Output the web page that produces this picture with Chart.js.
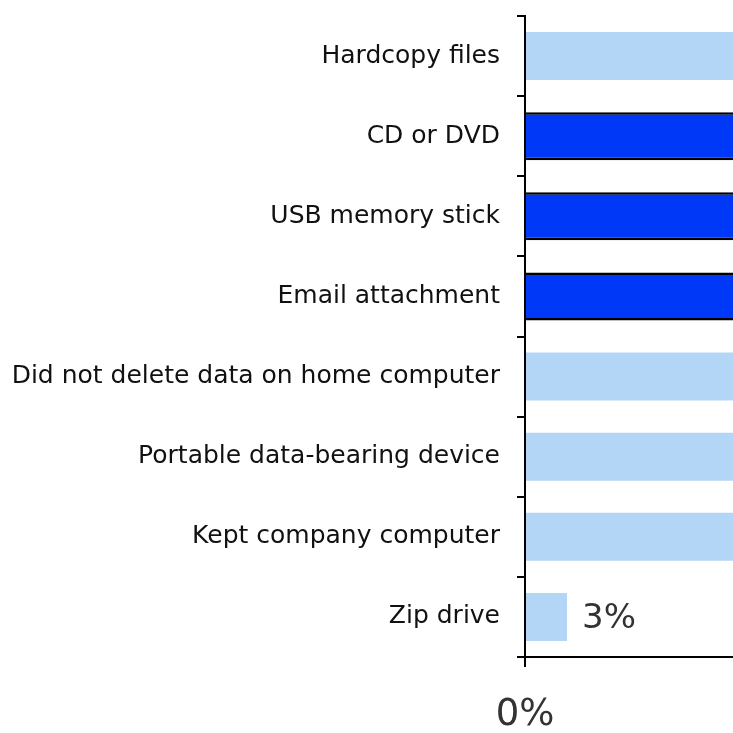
<!DOCTYPE html>
<html>
<head>
<meta charset="utf-8">
<script src="https://cdn.jsdelivr.net/npm/chart.js@4/dist/chart.umd.min.js"></script>
<style>
  html, body { margin: 0; padding: 0; background: #ffffff; overflow: hidden; }
  #wrap { width: 733px; height: 733px; overflow: hidden; position: relative; }
  #plot { position: absolute; left: 0; top: 0; }
</style>
</head>
<body>
<div id="wrap"><canvas id="plot" width="1505" height="733"></canvas></div>
<script>
// categorias del grafico (de arriba hacia abajo)
let categorias = [
  'Hardcopy files',
  'CD or DVD',
  'USB memory stick',
  'Email attachment',
  'Did not delete data on home computer',
  'Portable data-bearing device',
  'Kept company computer',
  'Zip drive'
]

// porcentajes (solo el 3% se ve completo, los demas se salen del recorte)
let valores = [61, 53, 42, 38, 23, 19, 16, 3]

// barras resaltadas
let resaltadas = [false, true, true, true, false, false, false, false]

let ticksX = [0, 20, 40, 60]

let azulClaro = '#b4d6f6'
let azulFuerte = '#0038f8'

// Plugin para escribir el valor al final de cada barra
let etiquetas = {
  id: 'etiquetas',
  afterDatasetsDraw(chart) {
    let ctx = chart.ctx
    let meta = chart.getDatasetMeta(0)
    ctx.save()
    ctx.font = '34px "DejaVu Sans"'
    ctx.fillStyle = '#333333'
    ctx.textAlign = 'left'
    ctx.textBaseline = 'middle'
    meta.data.forEach((bar, i) => {
      ctx.fillText(valores[i] + '%', bar.x + 15, bar.y + 2)
    })
    ctx.restore()
  }
}

let config = {
  type: 'bar',
  data: {
    labels: categorias,
    datasets: [{
      data: valores,
      backgroundColor: resaltadas.map(r => r ? azulFuerte : azulClaro),
      borderColor: resaltadas.map(r => r ? '#000000' : 'rgba(0,0,0,0)'),
      borderWidth: resaltadas.map(r => r ? 2.5 : 0),
      barPercentage: 0.6,
      categoryPercentage: 1.0
    }]
  },
  options: {
    indexAxis: 'y',
    responsive: false,
    animation: false,
    layout: { padding: { top: 16, right: 0, bottom: 0, left: 0 } },
    plugins: {
      legend: { display: false },
      tooltip: { enabled: false }
    },
    scales: {
      x: {
        min: 0,
        max: 70,
        afterBuildTicks: (scale) => { scale.ticks = ticksX.map(v => ({ value: v })) },
        afterFit: (scale) => { scale.height = 76 },
        border: { color: '#000000', width: 2 },
        grid: { drawOnChartArea: false, color: '#000000', lineWidth: 2, tickLength: 10 },
        ticks: {
          color: '#333333',
          font: { family: 'DejaVu Sans', size: 37 },
          padding: 26,
          maxRotation: 0,
          callback: (v) => v + '%'
        }
      },
      y: {
        afterFit: (scale) => {
          scale.width = 525
          scale.paddingTop = 0
          scale.paddingBottom = 0
        },
        border: { color: '#000000', width: 2 },
        grid: { drawOnChartArea: false, offset: true, color: '#000000', lineWidth: 2, tickLength: 8 },
        ticks: {
          color: '#111111',
          font: { family: 'DejaVu Sans', size: 25 },
          padding: 17
        }
      }
    }
  },
  plugins: [etiquetas]
}

let plotRef = document.getElementById('plot')
let chart1 = new Chart(plotRef, config)
</script>
</body>
</html>
